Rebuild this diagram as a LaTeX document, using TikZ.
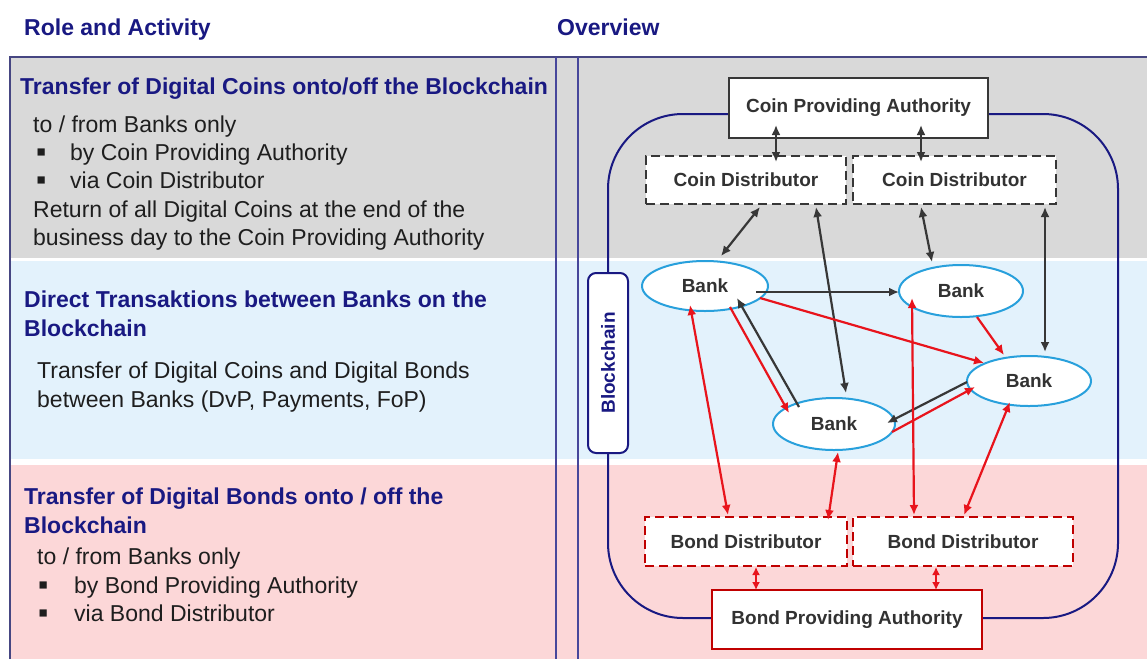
\documentclass[tikz,border=0pt]{standalone}
\usepackage{fontspec}
\setmainfont{Liberation Sans}
\usetikzlibrary{arrows.meta,calc,shapes.geometric}
\definecolor{navy}{RGB}{25,25,130}
\definecolor{framec}{RGB}{70,70,130}
\definecolor{bandgray}{RGB}{217,217,217}
\definecolor{bandblue}{RGB}{227,242,252}
\definecolor{bandpink}{RGB}{252,215,216}
\definecolor{bodytext}{RGB}{30,30,30}
\definecolor{boxtext}{RGB}{50,50,50}
\definecolor{arrowgray}{RGB}{55,55,55}
\definecolor{arrowred}{RGB}{232,20,28}
\definecolor{darkred}{RGB}{192,0,0}
\definecolor{ellblue}{RGB}{40,160,220}
\begin{document}
\begin{tikzpicture}[x=1pt,y=-1pt,
  >={Latex[length=10pt,width=9pt]},
  lbl/.style={anchor=base west, inner sep=0pt, font=\fontsize{23}{28}\selectfont, text=bodytext},
  bul/.style={anchor=base west, inner sep=0pt, font=\fontsize{29}{30}\selectfont, text=bodytext},
  ttl/.style={anchor=base west, inner sep=0pt, font=\fontsize{23}{28}\selectfont\bfseries, text=navy},
  boxbase/.style={draw, line width=2pt, fill=white, inner sep=0pt, font=\fontsize{19}{22}\selectfont\bfseries, text=boxtext},
  authbox/.style={boxbase, draw=arrowgray},
  bondauth/.style={boxbase, draw=darkred},
  coindist/.style={boxbase, draw=arrowgray, dash pattern=on 9pt off 5pt},
  bonddist/.style={boxbase, draw=darkred, dash pattern=on 9pt off 5pt},
  bank/.style={ellipse, draw=ellblue, line width=2pt, fill=white, inner sep=0pt, font=\fontsize{19}{22}\selectfont\bfseries, text=boxtext},
  blk/.style={draw=arrowgray, line width=2.2pt},
  rd/.style={draw=arrowred, line width=2.2pt},
  shortdbl/.style={arrows={Latex[length=8pt,width=8pt]-Latex[length=8pt,width=8pt]}},
]
\useasboundingbox (0,0) rectangle (1147,659);
\fill[white] (0,0) rectangle (1147,659);
% bands
\fill[bandgray] (10,57) rectangle (1147,258);
\fill[bandblue] (10,261) rectangle (1147,459);
\fill[bandpink] (10,465) rectangle (1147,659);
% frame
\draw[framec, line width=1.5pt] (10,659) -- (10,57) -- (1147,57);
\draw[navy!80, line width=1.2pt] (556,57) -- (556,659);
\draw[navy!80, line width=1.2pt] (578,57) -- (578,659);
% headers
\node[ttl] (h1) at (24,35) {Role and Activity};
\node[ttl] (h2) at (557,35) {Overview};
% left column: coins
\node[ttl] (t1) at (20,94) {Transfer of Digital Coins onto/off the Blockchain};
\node[lbl] (t1a) at (33,132) {to / from Banks only};
\node[bul] (t1b) at (36,161) {▪};
\node[lbl] (t1c) at (70,160) {by Coin Providing Authority};
\node[bul] (t1d) at (36,189) {▪};
\node[lbl] (t1e) at (70,188) {via Coin Distributor};
\node[lbl] (t1f) at (33,217) {Return of all Digital Coins at the end of the};
\node[lbl] (t1g) at (33,245) {business day to the Coin Providing Authority};
% left column: banks
\node[ttl] (t2) at (24,307) {Direct Transaktions between Banks on the};
\node[ttl] (t2a) at (24,336) {Blockchain};
\node[lbl] (t2b) at (37,378) {Transfer of Digital Coins and Digital Bonds};
\node[lbl] (t2c) at (37,407) {between Banks (DvP, Payments, FoP)};
% left column: bonds
\node[ttl] (t3) at (24,504) {Transfer of Digital Bonds onto / off the};
\node[ttl] (t3a) at (24,533) {Blockchain};
\node[lbl] (t3b) at (37,564) {to / from Banks only};
\node[bul] (t3c) at (38,594) {▪};
\node[lbl] (t3d) at (74,593) {by Bond Providing Authority};
\node[bul] (t3e) at (38,622) {▪};
\node[lbl] (t3f) at (74,621) {via Bond Distributor};
% blockchain boundary
\node[draw=navy, line width=2pt, rounded corners=75pt, minimum width=510pt, minimum height=504pt, inner sep=0pt] (chain) at (863,366) {};
\node[draw=navy, line width=2pt, fill=white, rounded corners=8pt, minimum width=40pt, minimum height=180pt, inner sep=0pt] (chainlbl) at (608,363) {};
\node[rotate=90, font=\fontsize{19}{22}\selectfont\bfseries, text=navy, inner sep=0pt] (chaintxt) at (chainlbl.center) {Blockchain};
% boxes
\node[authbox, minimum width=259pt, minimum height=60pt] (cpa) at (858.5,108) {Coin Providing Authority};
\node[coindist, minimum width=200pt, minimum height=48pt] (cd1) at (746,180) {Coin Distributor};
\node[coindist, minimum width=203pt, minimum height=48pt] (cd2) at (954.5,180) {Coin Distributor};
\node[bonddist, minimum width=202pt, minimum height=49pt] (bd1) at (746,541.5) {Bond Distributor};
\node[bonddist, minimum width=220pt, minimum height=49pt] (bd2) at (963,541.5) {Bond Distributor};
\node[bondauth, minimum width=270pt, minimum height=59pt] (bpa) at (847,619.5) {Bond Providing Authority};
% banks
\node[bank, minimum width=126pt, minimum height=50pt] (bTL) at (705,286) {Bank};
\node[bank, minimum width=124pt, minimum height=52pt] (bTR) at (961,291) {Bank};
\node[bank, minimum width=124pt, minimum height=50pt] (bR) at (1029,381) {Bank};
\node[bank, minimum width=122pt, minimum height=52pt] (bM) at (834,424) {Bank};
% black arrows
\draw[blk,<->] ($(cpa)+(-82.5,17)$) -- ($(cd1)+(30,-18)$);
\draw[blk,<->] ($(cpa)+(62.5,17)$) -- ($(cd2)+(-33.5,-18)$);
\draw[blk,<->] ($(cd1)+(14,27)$) -- ($(bTL)+(16,-30)$);
\draw[blk,<->] ($(cd1)+(70,27)$) -- ($(bM)+(12,-31)$);
\draw[blk,<->] ($(cd2)+(-33.5,27)$) -- ($(bTR)+(-29,-29)$);
\draw[blk,<->] ($(cd2)+(90.5,27)$) -- ($(bR)+(16,-29)$);
\draw[blk,->] ($(bTL)+(51,6)$) -- ($(bTR)+(-62,1)$);
\draw[blk,->] ($(bM)+(-35,-17)$) -- ($(bTL)+(32,12)$);
\draw[blk,->] ($(bR)+(-62,1)$) -- ($(bM)+(53,-1)$);
% red arrows
\draw[rd,->] ($(bTL)+(25,21)$) -- ($(bM)+(-45,-11)$);
\draw[rd,->] ($(bTL)+(55,12)$) -- ($(bR)+(-45,-18)$);
\draw[rd,->] ($(bTR)+(16,26)$) -- ($(bR)+(-25,-26)$);
\draw[rd,->] ($(bM)+(58,8)$) -- ($(bR)+(-54,6)$);
\draw[rd,<->] ($(bd1)+(-18,-26.5)$) -- ($(bTL)+(-15,19)$);
\draw[rd,<->] ($(bd1)+(82,-21.5)$) -- ($(bM)+(4,28)$);
\draw[rd,<->] ($(bd2)+(-49,-26.5)$) -- ($(bTR)+(-49,7)$);
\draw[rd,<->] ($(bd2)+(1,-26.5)$) -- ($(bR)+(-19,21)$);
\draw[rd,shortdbl] ($(bd1)+(10,25.5)$) -- ($(bpa)+(-91,-29.5)$);
\draw[rd,shortdbl] ($(bd2)+(-27,25.5)$) -- ($(bpa)+(89,-29.5)$);
\end{tikzpicture}
\end{document}
